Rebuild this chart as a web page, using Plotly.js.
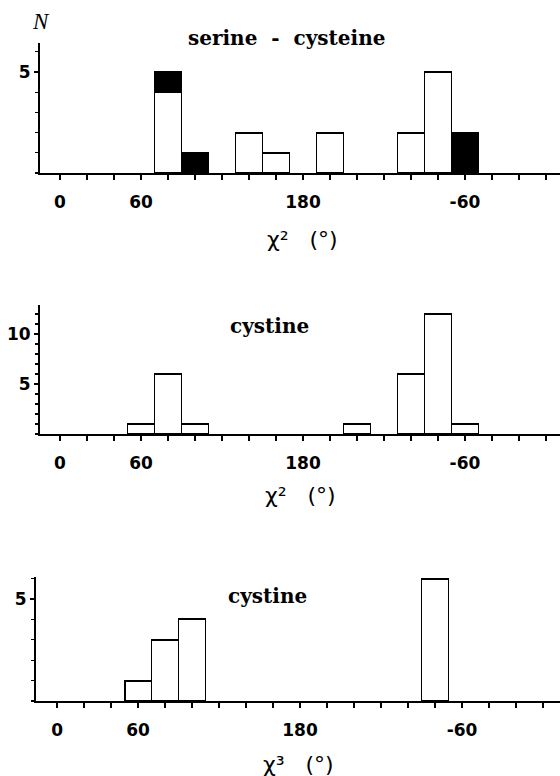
<!DOCTYPE html>
<html><head><meta charset="utf-8">
<script src="https://cdn.plot.ly/plotly-3.0.1.min.js"></script>
<style>body{margin:0;background:#fff}#chart{width:560px;height:776px}</style>
</head><body><div id="chart"></div>
<script>
// Panel 1: serine - cysteine, chi2 (open = white, filled = black)
const p1WhiteBins = [80, 140, 160, 200, 260, 280];
const p1WhiteCounts = [4, 2, 1, 2, 2, 5];
const p1BlackBins = [80, 100, 300];
const p1BlackCounts = [1, 1, 2];
// Panel 2: cystine, chi2
const p2Bins = [60, 80, 100, 220, 260, 280, 300];
const p2Counts = [1, 6, 1, 1, 6, 12, 1];
// Panel 3: cystine, chi3
const p3Bins = [60, 80, 100, 280];
const p3Counts = [1, 3, 4, 6];
const binWidth = 20;

const xTickVals = [0, 60, 180, 300];
const xTickText = ['0', '60', '180', '-60'];
const y6TickVals = [5];
const y6TickText = ['5'];
const y12TickVals = [5, 10];
const y12TickText = ['5', '10'];

const panelTitles = ['serine\u00a0\u00a0-\u00a0\u00a0cysteine', 'cystine', 'cystine'];
const xTitles = ['\u03c7\u00b2\u00a0\u00a0\u00a0(\u00b0)', '\u03c7\u00b2\u00a0\u00a0\u00a0(\u00b0)', '\u03c7\u00b3\u00a0\u00a0\u00a0(\u00b0)'];
const yTitle = 'N';

function w(arr){ return arr.map(() => binWidth); }
const barLine = {color: '#000', width: 1.9};

const traces = [
  {type:'bar', x:p1WhiteBins, y:p1WhiteCounts, width:w(p1WhiteBins), xaxis:'x', yaxis:'y',
   marker:{color:'#fff', line:barLine}, showlegend:false},
  {type:'bar', x:p1BlackBins, y:p1BlackCounts, width:w(p1BlackBins), xaxis:'x', yaxis:'y',
   marker:{color:'#000', line:barLine}, showlegend:false},
  {type:'bar', x:p2Bins, y:p2Counts, width:w(p2Bins), xaxis:'x2', yaxis:'y2',
   marker:{color:'#fff', line:barLine}, showlegend:false},
  {type:'bar', x:p3Bins, y:p3Counts, width:w(p3Bins), xaxis:'x3', yaxis:'y3',
   marker:{color:'#fff', line:barLine}, showlegend:false}
];

const tickFont = {family:'DejaVu Sans', size:17, color:'#000', weight:'bold'};
function xAxis(domain, range, anchor){
  return {domain:domain, range:range, anchor:anchor, showline:true, linewidth:2, linecolor:'#000',
    ticks:'outside', ticklen:5, tickwidth:1.5, tickcolor:'#000', tickmode:'array',
    tickvals:xTickVals, ticktext:xTickText, tickfont:tickFont, ticklabelstandoff:8,
    minor:{tickmode:'linear', tick0:0, dtick:binWidth, ticks:'outside', ticklen:5, tickwidth:1.5, tickcolor:'#000', showgrid:false},
    showgrid:false, zeroline:false, automargin:false, fixedrange:true};
}
function yAxis(domain, range, anchor, tv, tt){
  return {domain:domain, range:range, anchor:anchor, showline:true, linewidth:2, linecolor:'#000',
    ticks:'outside', ticklen:4, tickwidth:1.5, tickcolor:'#000', tickmode:'array',
    tickvals:tv, ticktext:tt, tickfont:tickFont,
    minor:{tickmode:'linear', tick0:0, dtick:1, ticks:'outside', ticklen:3, tickwidth:1.2, tickcolor:'#000', showgrid:false},
    showgrid:false, zeroline:false, automargin:false, fixedrange:true};
}

const titleFont = {family:'DejaVu Serif', size:20, color:'#000', weight:'bold'};
const axTitleFont = {family:'DejaVu Sans', size:22, color:'#000'};

const layout = {
  width:560, height:776, margin:{l:0, r:0, t:0, b:0},
  paper_bgcolor:'#fff', plot_bgcolor:'#fff', barmode:'stack', showlegend:false,
  xaxis: xAxis([40/560, 1], [-14.8, 370.4], 'y'),
  yaxis: yAxis([1-173/776, 1-43/776], [0, 6.44], 'x', y6TickVals, y6TickText),
  xaxis2: xAxis([40/560, 1], [-14.8, 370.4], 'y2'),
  yaxis2: yAxis([1-434/776, 1-305/776], [0, 12.9], 'x2', y12TickVals, y12TickText),
  xaxis3: xAxis([36/560, 1], [-15.6, 372.6], 'y3'),
  yaxis3: yAxis([1-701/776, 1-577/776], [0, 6.08], 'x3', y6TickVals, y6TickText),
  annotations: [
    {text:panelTitles[0], x:286/560, y:1-38/776, xref:'paper', yref:'paper', showarrow:false, font:titleFont, xanchor:'center', yanchor:'middle'},
    {text:panelTitles[1], x:269/560, y:1-326/776, xref:'paper', yref:'paper', showarrow:false, font:titleFont, xanchor:'center', yanchor:'middle'},
    {text:panelTitles[2], x:267/560, y:1-596/776, xref:'paper', yref:'paper', showarrow:false, font:titleFont, xanchor:'center', yanchor:'middle'},
    {text:yTitle, x:41/560, y:1-21/776, xref:'paper', yref:'paper', showarrow:false, font:{family:'Liberation Serif', size:23, color:'#000', style:'italic'}, xanchor:'center', yanchor:'middle'},
    {text:xTitles[0], x:302/560, y:1-239/776, xref:'paper', yref:'paper', showarrow:false, font:axTitleFont, xanchor:'center', yanchor:'middle'},
    {text:xTitles[1], x:300/560, y:1-496/776, xref:'paper', yref:'paper', showarrow:false, font:axTitleFont, xanchor:'center', yanchor:'middle'},
    {text:xTitles[2], x:298/560, y:1-764/776, xref:'paper', yref:'paper', showarrow:false, font:axTitleFont, xanchor:'center', yanchor:'middle'}
  ]
};

Plotly.newPlot('chart', traces, layout, {displayModeBar:false, staticPlot:true});
</script>
</body></html>
